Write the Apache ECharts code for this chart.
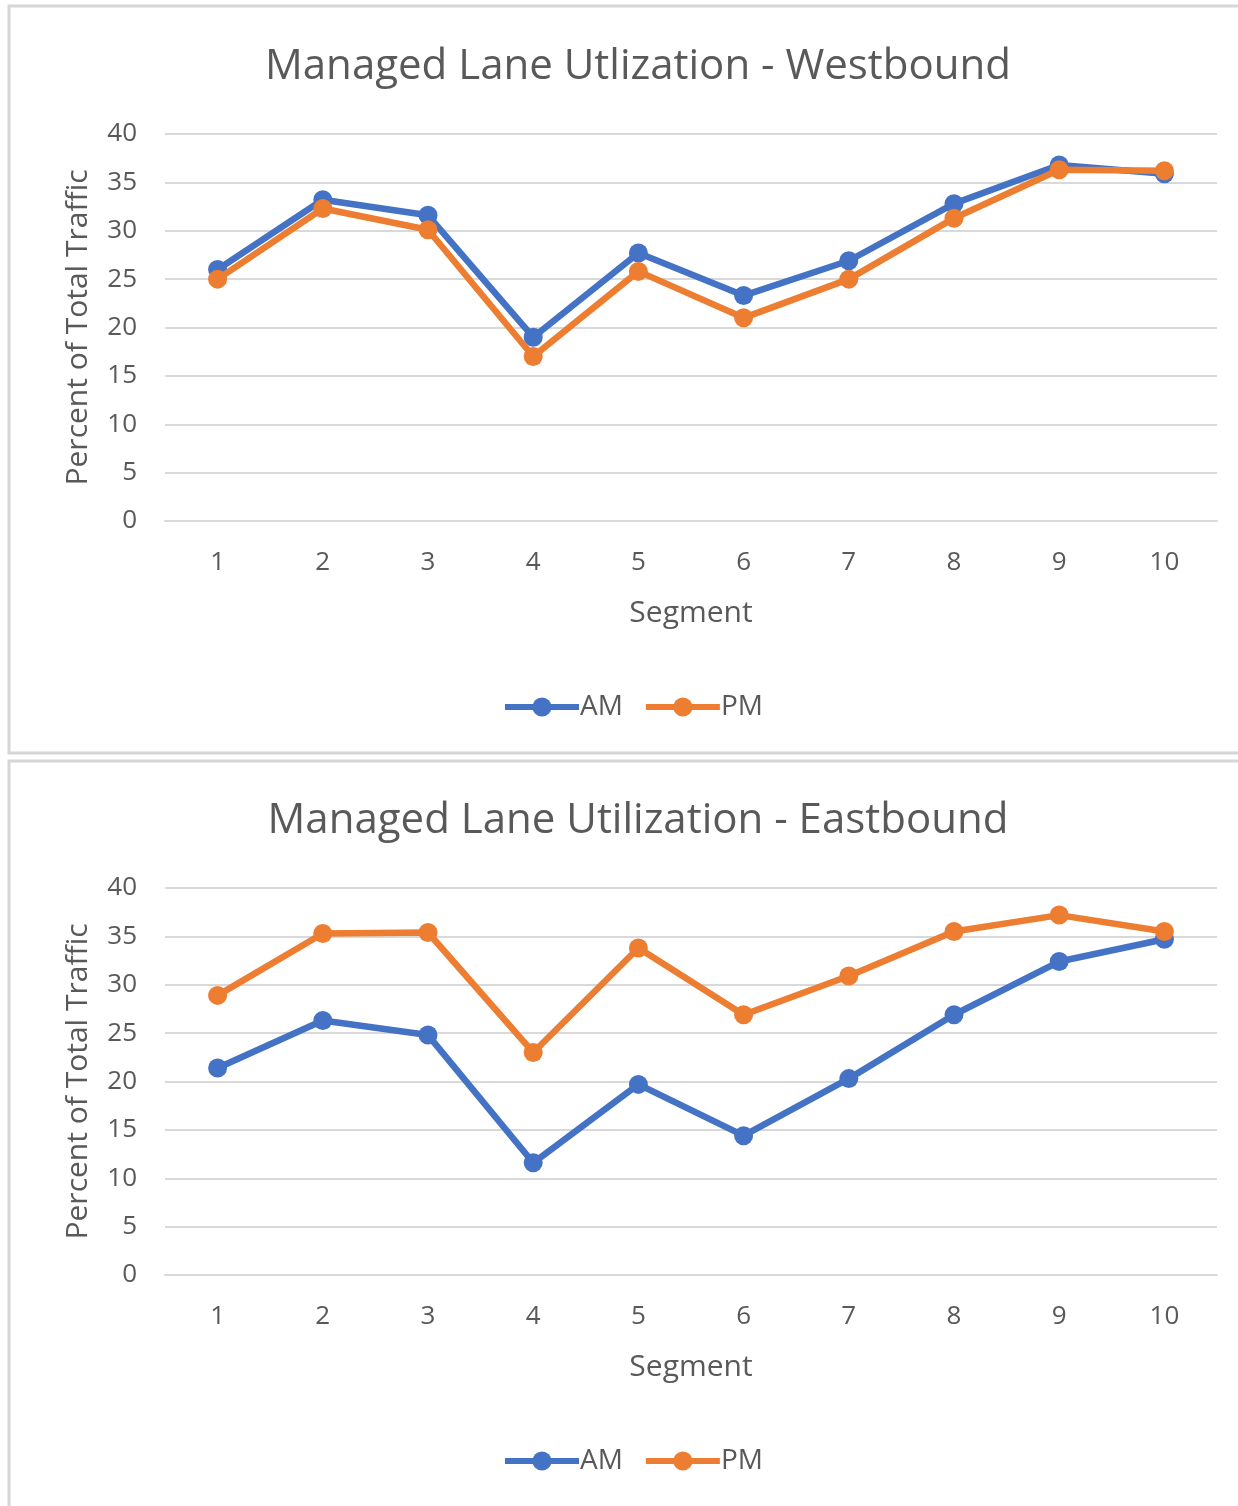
<!DOCTYPE html>
<html>
<head>
<meta charset="utf-8">
<script src="https://cdn.jsdelivr.net/npm/echarts@6/dist/echarts.min.js"></script>
<style>
  html, body { margin: 0; padding: 0; background: #fff; }
  #chart { width: 1238px; height: 1506px; }
</style>
</head>
<body>
<div id="chart"></div>
<script>
// Segment numbers along the x axis
const segments = ['1', '2', '3', '4', '5', '6', '7', '8', '9', '10'];

// Westbound managed lane share (% of total traffic)
const westAM = [26.0, 33.2, 31.6, 19.0, 27.7, 23.3, 26.9, 32.8, 36.8, 35.9];
const westPM = [25.0, 32.3, 30.1, 17.0, 25.8, 21.0, 25.0, 31.3, 36.3, 36.2];

// Eastbound managed lane share (% of total traffic)
const eastAM = [21.4, 26.3, 24.8, 11.6, 19.7, 14.4, 20.3, 26.9, 32.4, 34.7];
const eastPM = [28.9, 35.3, 35.4, 23.0, 33.8, 26.9, 30.9, 35.5, 37.2, 35.5];

const titles = ['Managed Lane Utlization - Westbound', 'Managed Lane Utilization - Eastbound'];

const FONT = 'Open Sans';
const TEXT = '#595959';
const GRIDLINE = '#d9d9d9';
const BLUE = '#4472C4';
const ORANGE = '#ED7D31';

// Two stacked panels; the page-level offset of each
const panelTop = [0, 754];
const gridTop = [134, 888];
const gridHeight = 387;

function lineSeries(name, data, color, idx) {
  return {
    name: name,
    type: 'line',
    xAxisIndex: idx,
    yAxisIndex: idx,
    data: data,
    symbol: 'circle',
    symbolSize: 19,
    lineStyle: { color: color, width: 6.5 },
    itemStyle: { color: color },
    emphasis: { disabled: true },
    z: name === 'PM' ? 3 : 2
  };
}

const grids = [], xAxes = [], yAxes = [], titleOpts = [], legends = [];
[0, 1].forEach(function (i) {
  grids.push({ left: 165, right: 21, top: gridTop[i], height: gridHeight });
  xAxes.push({
    type: 'category',
    gridIndex: i,
    data: segments,
    boundaryGap: true,
    name: 'Segment',
    nameLocation: 'middle',
    nameGap: 77,
    nameTextStyle: { color: TEXT, fontSize: 30, fontFamily: FONT },
    axisLine: { lineStyle: { color: GRIDLINE, width: 2 } },
    axisTick: { show: false },
    axisLabel: { color: TEXT, fontSize: 26, fontFamily: FONT, margin: 29 }
  });
  yAxes.push({
    type: 'value',
    gridIndex: i,
    min: 0,
    max: 40,
    interval: 5,
    name: 'Percent of Total Traffic',
    nameLocation: 'middle',
    nameGap: 72,
    nameTextStyle: { color: TEXT, fontSize: 30, fontFamily: FONT },
    axisLine: { show: false },
    axisTick: { show: false },
    splitLine: { lineStyle: { color: GRIDLINE, width: 2 } },
    axisLabel: { color: TEXT, fontSize: 26, fontFamily: FONT, margin: 28 }
  });
  titleOpts.push({
    text: titles[i],
    left: 633,
    textAlign: 'center',
    top: panelTop[i] + 41,
    textStyle: { color: TEXT, fontSize: 42, fontWeight: 'normal', fontFamily: FONT }
  });
  legends.push({
    data: [
      { name: 'AM', itemStyle: { color: BLUE }, lineStyle: { color: BLUE, width: 6 } },
      { name: 'PM', itemStyle: { color: ORANGE }, lineStyle: { color: ORANGE, width: 6 } }
    ],
    left: 497,
    top: panelTop[i] + 688,
    itemWidth: 74,
    itemHeight: 24,
    itemGap: 20,
    selectedMode: false,
    textStyle: { color: TEXT, fontSize: 28, fontFamily: FONT, padding: [0, 0, 0, -4] }
  });
});

const chart = echarts.init(document.getElementById('chart'), null, { renderer: 'canvas' });
chart.setOption({
  animation: false,
  backgroundColor: '#fff',
  title: titleOpts,
  legend: legends,
  grid: grids,
  xAxis: xAxes,
  yAxis: yAxes,
  // Panel frames
  graphic: [
    { type: 'rect', shape: { x: 9, y: 6, width: 1240, height: 747 },
      style: { fill: null, stroke: '#d6d6d6', lineWidth: 3 }, silent: true, z: -1 },
    { type: 'rect', shape: { x: 9, y: 761, width: 1240, height: 760 },
      style: { fill: null, stroke: '#d6d6d6', lineWidth: 3 }, silent: true, z: -1 }
  ],
  series: [
    lineSeries('AM', westAM, BLUE, 0),
    lineSeries('PM', westPM, ORANGE, 0),
    lineSeries('AM', eastAM, BLUE, 1),
    lineSeries('PM', eastPM, ORANGE, 1)
  ]
});
</script>
</body>
</html>
